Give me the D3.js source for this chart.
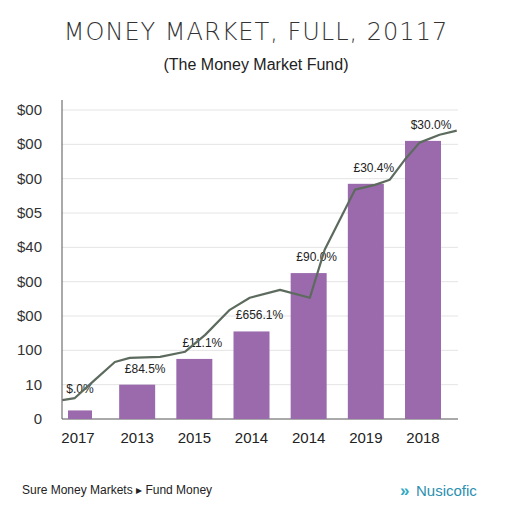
<!DOCTYPE html>
<html lang="en">
<head>
<meta charset="UTF-8">
<title>Money Market</title>
<script src="https://cdn.jsdelivr.net/npm/d3@7/dist/d3.min.js"></script>
<style>
body{margin:0;background:#fff;font-family:"Liberation Sans",Arial,sans-serif;}
</style>
</head>
<body>
<script>
// data
var categories=["2017","2013","2015","2014","2014 ","2019","2018"];
var barValues=[0.25,1.0,1.75,2.55,4.25,6.85,8.1];
var barLabels=["$.0%","£84.5%","£11.1%","£656.1%","£90.0%","£30.4%","$30.0%"];
var tickLabels=["0","10","100","$00","$00","$40","$05","$00","$00","$00"];
var lineX=[-0.31,-0.09,0.26,0.61,0.87,1.40,1.84,2.19,2.62,2.97,3.50,4.02,4.28,4.81,5.16,5.42,5.68,5.94,6.29,6.59];
var lineY=[0.55,0.61,1.14,1.66,1.78,1.81,1.96,2.45,3.18,3.53,3.76,3.53,4.93,6.68,6.82,6.97,7.55,8.05,8.28,8.40];

var svg=d3.select("body").append("svg").attr("width",512).attr("height",512);
var x=d3.scaleLinear().domain([0,6]).range([80,423]);
var y=d3.scaleLinear().domain([0,9]).range([419,110]);

svg.append("text").attr("x",256).attr("y",40).attr("text-anchor","middle")
  .attr("font-size",24).attr("letter-spacing",1).attr("fill","#333")
  .style("font-family","'DejaVu Sans'").style("font-weight","200")
  .text("MONEY MARKET,  FULL,  20117");
svg.append("text").attr("x",256).attr("y",70).attr("text-anchor","middle")
  .attr("font-size",16).attr("fill","#222").text("(The Money Market Fund)");

var grid=svg.append("g");
grid.selectAll("line").data(d3.range(10)).enter().append("line")
  .attr("x1",62).attr("x2",458).attr("y1",y).attr("y2",y)
  .attr("stroke",function(d){return d==0?"#555":"#e4e4e4";}).attr("stroke-width",1);
grid.selectAll("text").data(d3.range(10)).enter().append("text")
  .attr("x",42).attr("y",function(d){return y(d)+5;}).attr("text-anchor","end")
  .attr("font-size",15).attr("fill","#333").text(function(d){return tickLabels[d];});
svg.append("line").attr("x1",62).attr("x2",62).attr("y1",100).attr("y2",419).attr("stroke","#555");

svg.selectAll("rect.bar").data(barValues).enter().append("rect").attr("class","bar")
  .attr("x",function(d,i){var w=i==0?24:36;return x(i)-w/2;})
  .attr("width",function(d,i){return i==0?24:36;})
  .attr("y",function(d){return y(d);})
  .attr("height",function(d){return y(0)-y(d);})
  .attr("fill","#9a6aad");

svg.selectAll("text.bl").data(barLabels).enter().append("text").attr("class","bl")
  .attr("x",function(d,i){return i==0?80:x(i)+8;})
  .attr("y",function(d,i){return i==0?y(barValues[i])-17:y(barValues[i])-12;})
  .attr("text-anchor","middle").attr("font-size",12).attr("fill","#222").text(function(d){return d;});

var pts=lineX.map(function(v,i){return [v,lineY[i]];});
svg.append("path").datum(pts)
  .attr("d",d3.line().x(function(d){return x(d[0]);}).y(function(d){return y(d[1]);}))
  .attr("fill","none").attr("stroke","#5d6b5e").attr("stroke-width",2.2).attr("stroke-linejoin","round");

svg.selectAll("text.cat").data(categories).enter().append("text").attr("class","cat")
  .attr("x",function(d,i){return i==0?78:x(i);}).attr("y",443).attr("text-anchor","middle")
  .attr("font-size",15).attr("fill","#222").text(function(d){return d.trim();});

svg.append("text").attr("x",22).attr("y",494).attr("font-size",12).attr("fill","#222")
  .text("Sure Money Markets \u25B8 Fund Money");
svg.append("text").attr("x",400).attr("y",496).attr("font-size",17).attr("font-weight","bold").attr("fill","#2fa9c4").text("\u00BB");
svg.append("text").attr("x",416).attr("y",496).attr("font-size",15).attr("fill","#2b8fb0").text("Nusicofic");
</script>
</body>
</html>
